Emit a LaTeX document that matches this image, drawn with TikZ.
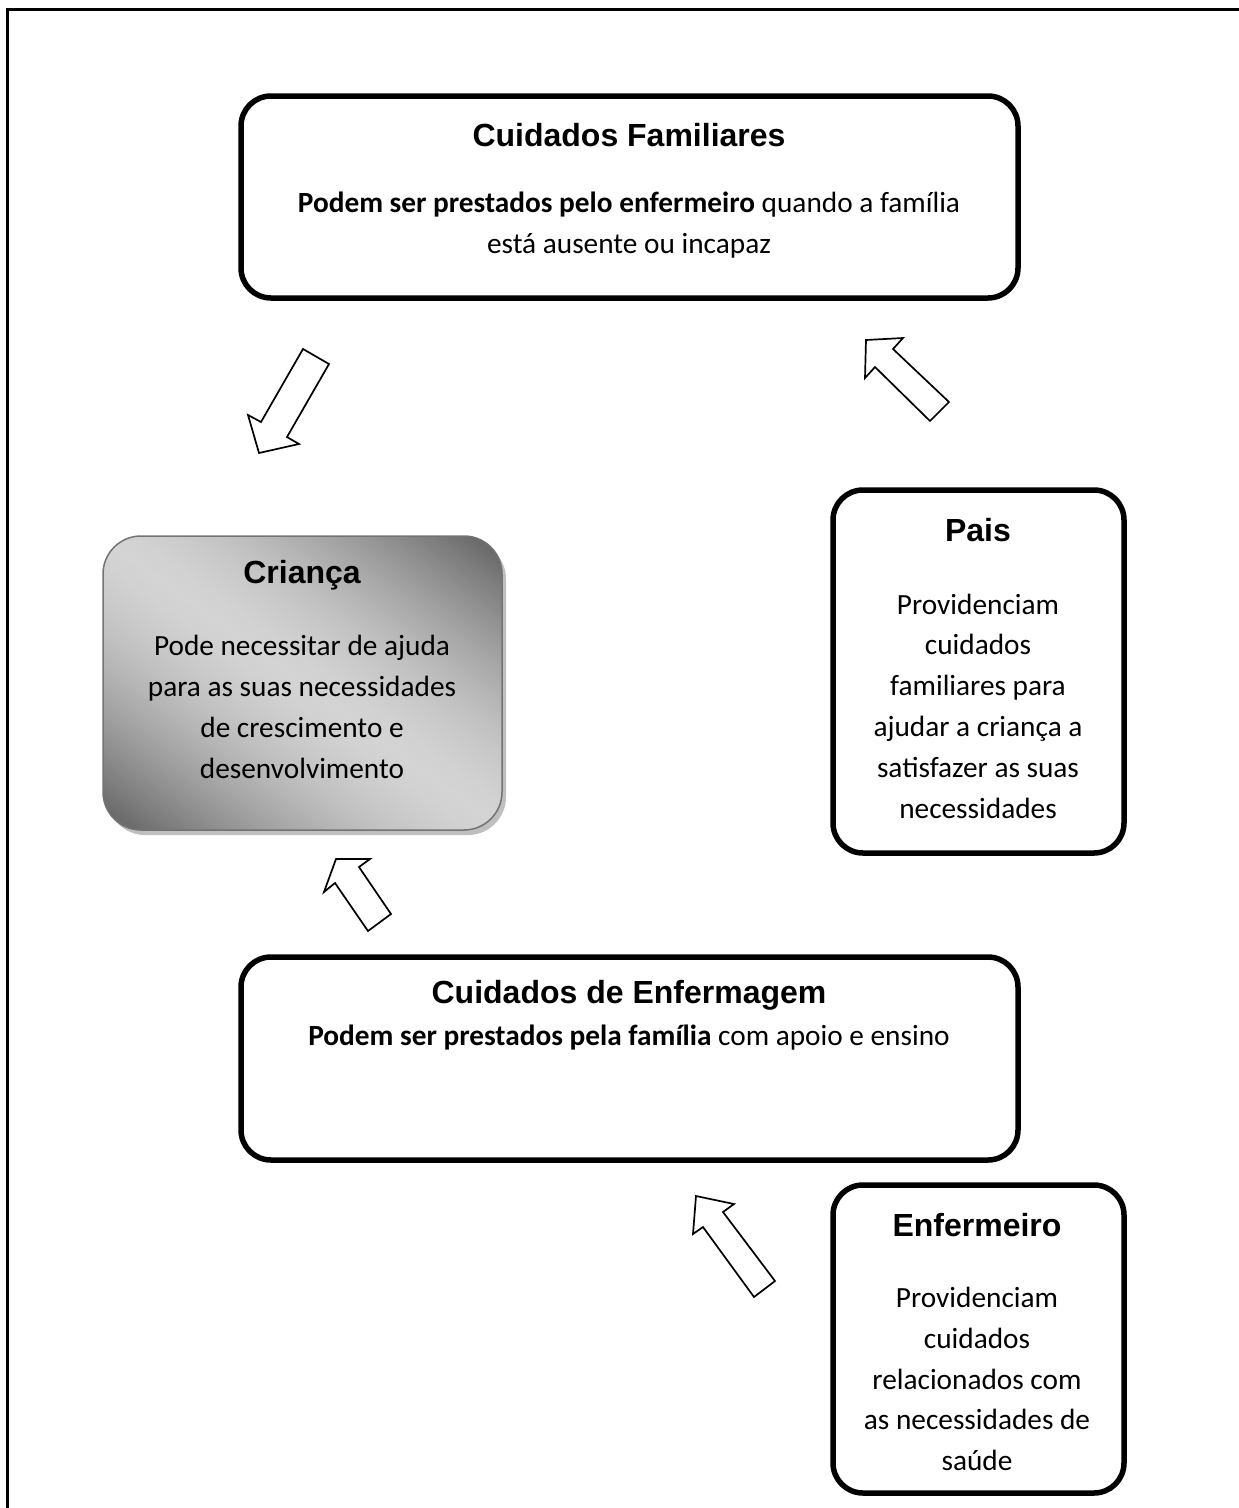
\documentclass[tikz,border=0pt]{standalone}
\usepackage{fontspec}
\setmainfont{Carlito}
\newfontfamily\titlefont{Liberation Sans}
\begin{document}
\begin{tikzpicture}[x=1pt,y=1pt,
  box/.style={draw=black, line width=5.5pt, rounded corners=30pt, fill=white, inner sep=0pt},
  ttl/.style={font=\titlefont\bfseries\fontsize{32}{38}\selectfont, inner sep=0pt},
  body/.style={font=\fontsize{29.3}{40.8}\selectfont, align=center, inner sep=0pt},
  blockarrow/.style={draw=black, line width=1.7pt, fill=white, line join=miter}]
\useasboundingbox (0,0) rectangle (1239,-1508);
% outer frame (runs off the page on the right and bottom)
\draw[line width=3pt] (7,-1508) -- (7,-9) -- (1239,-9);

% boxes
\node[box, minimum width=777pt, minimum height=202pt] (fam) at (629.5,-197) {};
\node[box, minimum width=291pt, minimum height=363pt] (pais) at (978.5,-671.5) {};
\node[box, minimum width=777pt, minimum height=203pt] (enf) at (629.5,-1058.5) {};
\node[box, minimum width=291pt, minimum height=308pt] (enfo) at (978.5,-1339) {};

% Crianca: gradient box with shadow
\fill[gray!50, rounded corners=38pt] (107,-541) rectangle (506,-835);
\begin{scope}
  \clip[rounded corners=38pt] (103,-536) rectangle (502,-830);
  \begin{scope}[shift={(302.5,-683)}, rotate=54]
    \foreach \xx in {-264,-260,...,260} {
      \pgfmathsetmacro{\cc}{17+47*(min(1,abs(\xx+2)/237))^1.6}
      \fill[black!\cc] (\xx,-320) rectangle (\xx+4.6,320);
    }
  \end{scope}
\end{scope}
\draw[black!55, line width=1.5pt, rounded corners=38pt] (103,-536) rectangle (502,-830);
\coordinate (cri) at (302.5,-683);

% texts
\node[ttl] (famT) at (629,-135) {Cuidados Familiares};
\node[body] (famB) at (629,-225) {\textbf{Podem ser prestados pelo enfermeiro} quando a família\\está ausente ou incapaz};

\node[ttl] (paisT) at (978,-530) {Pais};
\node[body] (paisB) at (978,-706) {Providenciam\\cuidados\\familiares para\\ajudar a criança a\\satisfazer as suas\\necessidades};

\node[ttl] (criT) at (302,-575) {Criança};
\node[body] (criB) at (302,-707) {Pode necessitar de ajuda\\para as suas necessidades\\de crescimento e\\desenvolvimento};

\node[ttl] (enfT) at (629,-995) {Cuidados de Enfermagem};
\node[body] (enfB) at (629,-1038) {\textbf{Podem ser prestados pela família} com apoio e ensino};

\node[ttl] (enfoT) at (977,-1225) {Enfermeiro};
\node[body] (enfoB) at (977,-1379) {Providenciam\\cuidados\\relacionados com\\as necessidades de\\saúde};

% block arrows
\draw[blockarrow] (303,-349) -- (329,-364) -- (287,-437) -- (299,-444) -- (259,-453) -- (248,-415) -- (261,-422) -- cycle;
\draw[blockarrow] (866,-340) -- (903,-338) -- (893,-349) -- (949,-402) -- (930,-421) -- (875,-367) -- (865,-378) -- cycle;
\draw[blockarrow] (336,-859) -- (370,-859) -- (359,-867) -- (391,-914) -- (368,-931) -- (335,-883) -- (324,-892) -- cycle;
\draw[blockarrow] (696,-1196) -- (734,-1204) -- (723,-1212) -- (775,-1281) -- (754,-1297) -- (703,-1227) -- (693,-1234) -- cycle;
\end{tikzpicture}
\end{document}
